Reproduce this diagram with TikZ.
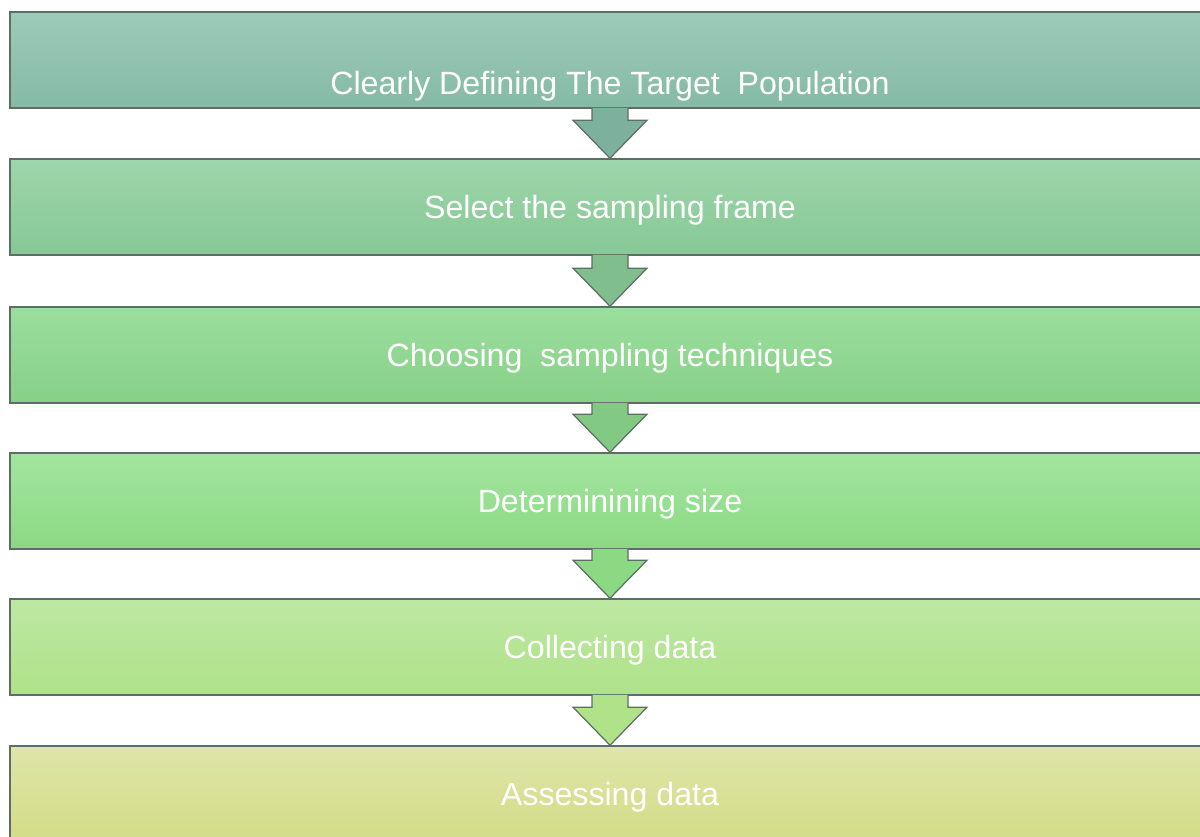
\documentclass[tikz,border=0pt]{standalone}
\usepackage{fontspec}
\setmainfont{Liberation Sans}
\usetikzlibrary{calc}

\definecolor{edgegray}{HTML}{5E6E67}
\definecolor{topA}{HTML}{9CCBBA}\definecolor{botA}{HTML}{85BAA5}
\definecolor{topB}{HTML}{9DD6AA}\definecolor{botB}{HTML}{87C896}
\definecolor{topC}{HTML}{9CDE9D}\definecolor{botC}{HTML}{86D088}
\definecolor{topD}{HTML}{A3E59F}\definecolor{botD}{HTML}{8BD983}
\definecolor{topE}{HTML}{BDE8A2}\definecolor{botE}{HTML}{AFE289}
\definecolor{topF}{HTML}{DEE5A9}\definecolor{botF}{HTML}{D3DC86}

\tikzset{
  steptext/.style={text=white, font=\fontsize{18.3}{22}\selectfont,
    text height=13.1pt, text depth=0pt},
  stepbox/.style={steptext, draw=edgegray, line width=0.9pt, minimum width=24cm,
    minimum height=1.92cm, inner sep=0pt},
  flow/.style={draw=edgegray, line width=0.7pt, line join=miter}
}

% block arrow from the bottom of one step to the top of the next
\newcommand{\steparrow}[3]{%
  \filldraw[flow, fill=#3]
    ($(#1.south)+(-18,-1)$) -- ($(#2.north)+(-18,-38)$)
    -- ($(#2.north)+(-37,-38)$) -- (#2.north)
    -- ($(#2.north)+(37,-38)$) -- ($(#2.north)+(18,-38)$)
    -- ($(#1.south)+(18,-1)$);
}

\begin{document}
\begin{tikzpicture}[x=0.02cm,y=-0.02cm]
    \useasboundingbox (0,0) rectangle (1200,837);

    \node[stepbox, top color=topA, bottom color=botA](s1) at (610,60){};
    \node[steptext](t1) at (610,83){Clearly Defining The Target\ \ Population};

    \node[stepbox, top color=topB, bottom color=botB](s2) at (610,207){Select the sampling frame};
    \node[stepbox, top color=topC, bottom color=botC](s3) at (610,355){Choosing\ \ sampling techniques};
    \node[stepbox, top color=topD, bottom color=botD](s4) at (610,501){Determinining size};
    \node[stepbox, top color=topE, bottom color=botE](s5) at (610,647){Collecting data};
    \node[stepbox, top color=topF, bottom color=botF](s6) at (610,794){Assessing data};

    \steparrow{s1}{s2}{botA!95!black}
    \steparrow{s2}{s3}{botB!95!black}
    \steparrow{s3}{s4}{botC!97!black}
    \steparrow{s4}{s5}{botD}
    \steparrow{s5}{s6}{botE}

\end{tikzpicture}
\end{document}
